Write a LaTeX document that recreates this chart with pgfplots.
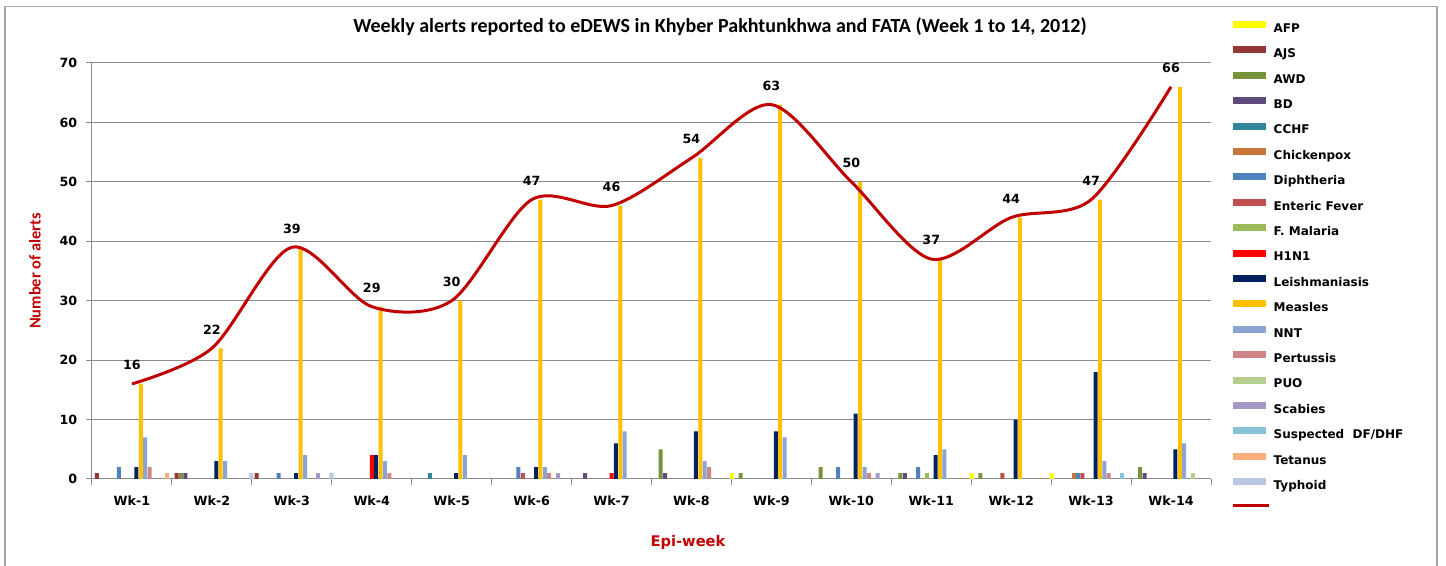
\documentclass[border=0pt]{standalone}
\usepackage{fontspec}
\setmainfont{DejaVu Sans}
\newfontfamily\calfont{Carlito}
\usepackage{pgfplots}
\pgfplotsset{compat=1.18}

\definecolor{cAFP}{HTML}{FFFF00}
\definecolor{cAJS}{HTML}{953735}
\definecolor{cAWD}{HTML}{77933C}
\definecolor{cBD}{HTML}{604A7B}
\definecolor{cCCHF}{HTML}{31859C}
\definecolor{cChick}{HTML}{C8763A}
\definecolor{cDiph}{HTML}{4F81BD}
\definecolor{cEnt}{HTML}{C0504D}
\definecolor{cFMal}{HTML}{9BBB59}
\definecolor{cHN}{HTML}{FF0000}
\definecolor{cLeish}{HTML}{002060}
\definecolor{cMeas}{HTML}{FFC000}
\definecolor{cNNT}{HTML}{8AA5D4}
\definecolor{cPert}{HTML}{CF8585}
\definecolor{cPUO}{HTML}{B5CE90}
\definecolor{cScab}{HTML}{A797C6}
\definecolor{cDF}{HTML}{86C3D8}
\definecolor{cTet}{HTML}{F9AE7E}
\definecolor{cTyph}{HTML}{B9C7E2}
\definecolor{lineRed}{HTML}{C00000}
\definecolor{axisGray}{HTML}{8C8C8C}

\newcommand{\lbl}{\fontsize{9.5}{11}\selectfont\bfseries}

\pgfplotsset{
  bars/.style 2 args={ybar, bar width=3pt, bar shift=#2, draw=none, fill=#1},
}

\begin{document}
\begin{tikzpicture}
\useasboundingbox (0,0) rectangle (1084.5pt,424.5pt);
% chart border (bottom edge is cut off in the reference)
\draw[black!35, line width=0.9pt] (3.75pt,0) -- (3.75pt,419.6pt) -- (1077.75pt,419.6pt) -- (1077.75pt,0);

\begin{axis}[
    at={(69pt,65.25pt)}, anchor=south west,
    scale only axis,
    width=839.25pt, height=312pt,
    xmin=0.5, xmax=14.5,
    ymin=0, ymax=70,
    ytick={0,10,...,70},
    yticklabel style={xshift=-3pt},
    xtick={0.5,1.5,...,14.5},
    xticklabel=\mbox{},
    extra x ticks={1,...,14},
    extra x tick labels={Wk-1,Wk-2,Wk-3,Wk-4,Wk-5,Wk-6,Wk-7,Wk-8,Wk-9,Wk-10,Wk-11,Wk-12,Wk-13,Wk-14},
    extra x tick style={major tick length=0pt, xticklabel style={yshift=-9pt}},
    tick align=outside,
    major tick length=4.5pt,
    tick style={draw=axisGray, line width=0.75pt},
    ticklabel style={font=\lbl},
    /pgf/number format/assume math mode=true,
    axis x line*=bottom, axis y line*=left,
    axis line style={-, draw=axisGray, line width=0.75pt},
    ymajorgrids=true,
    grid style={draw=axisGray, line width=0.75pt},
    legend image code/.code={\fill[#1] (0pt,0.7pt) rectangle (24.75pt,5.95pt);},
    legend cell align=left,
    legend style={at={(1.0179,1.1010)}, anchor=north west, draw=none, fill=none,
      inner sep=0pt, outer sep=0pt, row sep=8.7pt, column sep=2.25pt,
      font=\fontsize{9}{10}\selectfont\bfseries,
      nodes={inner sep=0pt, text height=6.9pt, text depth=1.9pt}},
    clip=false,
]

\addplot[bars={cAFP}{-29.7pt}] coordinates {(9,1) (12,1) (13,1)};
\addplot[bars={cAJS}{-26.4pt}] coordinates {(1,1) (2,1) (3,1)};
\addplot[bars={cAWD}{-23.1pt}] coordinates {(2,1) (8,5) (9,1) (10,2) (11,1) (12,1) (14,2)};
\addplot[bars={cBD}{-19.8pt}] coordinates {(2,1) (7,1) (8,1) (11,1) (14,1)};
\addplot[bars={cCCHF}{-16.5pt}] coordinates {(5,1)};
\addplot[bars={cChick}{-13.2pt}] coordinates {(13,1)};
\addplot[bars={cDiph}{-9.9pt}] coordinates {(1,2) (3,1) (6,2) (10,2) (11,2) (13,1)};
\addplot[bars={cEnt}{-6.6pt}] coordinates {(6,1) (12,1) (13,1)};
\addplot[bars={cFMal}{-3.3pt}] coordinates {(11,1)};
\addplot[bars={cHN}{0pt}] coordinates {(4,4) (7,1)};
\addplot[bars={cLeish}{3.3pt}] coordinates {
  (1,2) (2,3) (3,1) (4,4) (5,1) (6,2) (7,6) (8,8) (9,8) (10,11) (11,4) (12,10) (13,18) (14,5)};
\addplot[bars={cMeas}{6.6pt}] coordinates {
  (1,16) (2,22) (3,39) (4,29) (5,30) (6,47) (7,46) (8,54) (9,63) (10,50) (11,37) (12,44) (13,47) (14,66)};
\addplot[bars={cNNT}{9.9pt}] coordinates {
  (1,7) (2,3) (3,4) (4,3) (5,4) (6,2) (7,8) (8,3) (9,7) (10,2) (11,5) (13,3) (14,6)};
\addplot[bars={cPert}{13.2pt}] coordinates {(1,2) (4,1) (6,1) (8,2) (10,1) (13,1)};
\addplot[bars={cPUO}{16.5pt}] coordinates {(14,1)};
\addplot[bars={cScab}{19.8pt}] coordinates {(3,1) (6,1) (10,1)};
\addplot[bars={cDF}{23.1pt}] coordinates {(13,1)};
\addplot[bars={cTet}{26.4pt}] coordinates {(1,1)};
\addplot[bars={cTyph}{29.7pt}] coordinates {(2,1) (3,1)};

% total line drawn through the measles values
\addplot[lineRed, line width=2.25pt, smooth, mark=none,
    nodes near coords, point meta=y,
    every node near coord/.style={font=\lbl, text=black, anchor=south, yshift=6pt},
    legend image code/.code={\draw[lineRed, line width=2.25pt] (-0.5pt,3.3pt) -- (27pt,3.3pt);}]
  coordinates {
  (1,16) (2,22) (3,39) (4,29) (5,30) (6,47) (7,46) (8,54) (9,63) (10,50) (11,37) (12,44) (13,47) (14,66)};

\legend{AFP, AJS, AWD, BD, CCHF, Chickenpox, Diphtheria, Enteric Fever, F. Malaria, H1N1,
  Leishmaniasis, Measles, NNT, Pertussis, PUO, Scabies, Suspected\ \ DF/DHF, Tetanus, Typhoid, \mbox{}}
\end{axis}

\node[font=\calfont\fontsize{15}{17}\selectfont\bfseries] at (540pt,404.25pt)
  {Weekly alerts reported to eDEWS in Khyber Pakhtunkhwa and FATA (Week 1 to 14, 2012)};
\node[font=\calfont\fontsize{12.3}{14}\selectfont\bfseries, text=lineRed, rotate=90] at (26.25pt,221.25pt)
  {Number of alerts};
\node[font=\fontsize{11}{13}\selectfont\bfseries, text=lineRed] at (516pt,18pt) {Epi-week};
\end{tikzpicture}
\end{document}
